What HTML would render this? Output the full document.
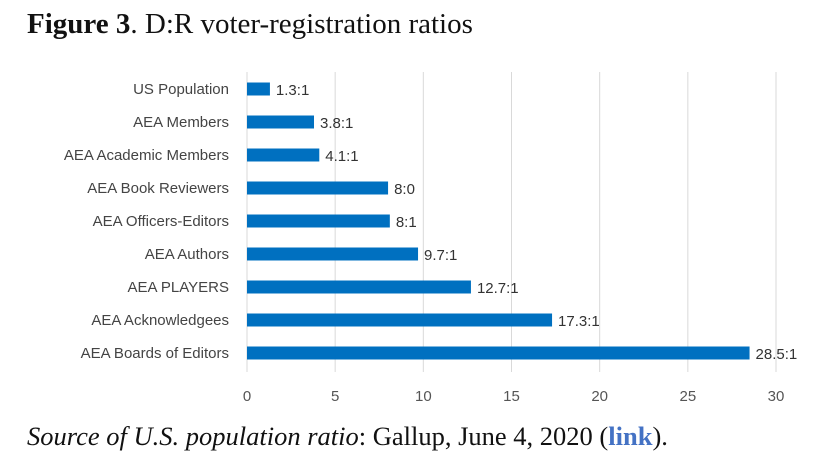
<!DOCTYPE html>
<html><head><meta charset="utf-8">
<style>
html,body{margin:0;padding:0;background:#fff;}
body{width:821px;height:473px;position:relative;overflow:hidden;}
.title{position:absolute;left:27px;top:8px;font-family:"Liberation Serif",serif;font-size:29px;color:#111;}
.source{position:absolute;left:27px;top:421px;font-family:"Liberation Serif",serif;font-size:26.5px;color:#111;}
.source a{color:#4472C4;font-weight:bold;text-decoration:none;}
svg{position:absolute;left:0;top:0;}
</style></head><body>
<div class="title"><b>Figure 3</b>. D:R voter-registration ratios</div>
<svg id="chart" width="821" height="473"></svg>
<div class="source"><i>Source of U.S. population ratio</i>: Gallup, June 4, 2020 (<a>link</a>).</div>
<script>
const categories=["US Population","AEA Members","AEA Academic Members","AEA Book Reviewers","AEA Officers-Editors","AEA Authors","AEA PLAYERS","AEA Acknowledgees","AEA Boards of Editors"];
const values=[1.3,3.8,4.1,8.0,8.1,9.7,12.7,17.3,28.5];
const valueLabels=["1.3:1","3.8:1","4.1:1","8:0","8:1","9.7:1","12.7:1","17.3:1","28.5:1"];
const ticks=[0,5,10,15,20,25,30];
const svg=document.getElementById('chart');
const NS='http://www.w3.org/2000/svg';
const x0=247,x1=776,xmax=30;
const xs=v=>x0+(v/xmax)*(x1-x0);
const y0=89,step=33.0;
const ys=i=>y0+i*step;
function mk(tag,attrs,text){const e=document.createElementNS(NS,tag);for(const k in attrs)e.setAttribute(k,attrs[k]);if(text!==undefined)e.textContent=text;svg.appendChild(e);return e;}
ticks.forEach(t=>{
 const g=mk('line',{x1:xs(t),x2:xs(t),y1:72,y2:372,stroke:'#d9d9d9','stroke-width':1});
 
 
 const l=mk('text',{x:xs(t),y:401,'text-anchor':'middle','font-family':'Liberation Sans, sans-serif','font-size':15,fill:'#555'},String(t));
 
 
});
categories.forEach((c,i)=>{
 const y=ys(i);
 const b=mk('rect',{x:xs(0),y:y-6.5,width:xs(values[i])-xs(0),height:13,fill:'#0070C0'});
 
 
 const cl=mk('text',{x:229,y:y+5,'text-anchor':'end','font-family':'Liberation Sans, sans-serif','font-size':15,fill:'#444'},c);
 
 
 const vl=mk('text',{x:xs(values[i])+6,y:y+6,'font-family':'Liberation Sans, sans-serif','font-size':15,fill:'#333'},valueLabels[i]);
 
 
});
</script>
</body></html>
